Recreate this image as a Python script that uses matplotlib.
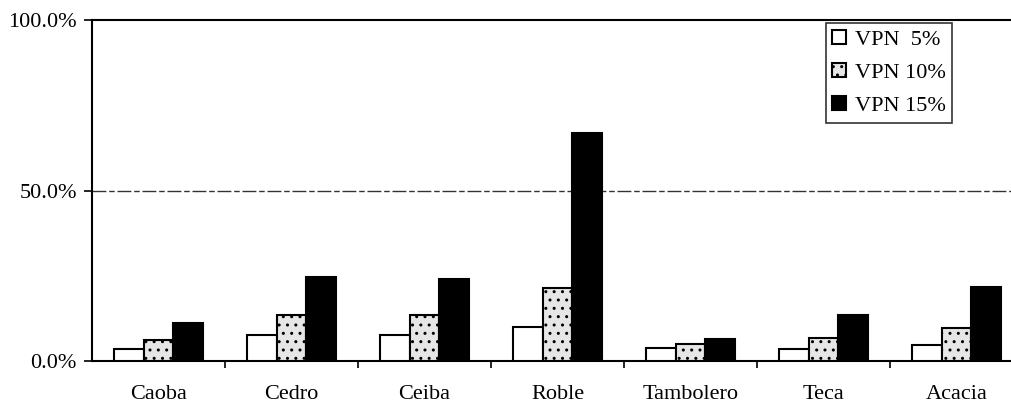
import matplotlib
matplotlib.use('Agg')
import matplotlib.pyplot as plt
import numpy as np
from matplotlib.ticker import FuncFormatter

categories = ['Caoba', 'Cedro', 'Ceiba', 'Roble', 'Tambolero', 'Teca', 'Acacia']
vpn5 = [3.5, 7.6, 7.6, 10.0, 3.8, 3.5, 4.7]
vpn10 = [6.2, 13.5, 13.5, 21.4, 5.0, 6.7, 9.7]
vpn15 = [11.1, 24.6, 24.0, 66.9, 6.4, 13.5, 21.7]
labels = ['VPN  5%', 'VPN 10%', 'VPN 15%']

plt.rcParams['font.family'] = ['Liberation Serif', 'DejaVu Serif']

fig = plt.figure(figsize=(10.11, 4.04), dpi=100)
ax = fig.add_axes([0.091, 0.1064, 0.909, 0.8441])

x = np.arange(len(categories))
w = 0.222
ax.bar(x - w, vpn5, w, color='white', edgecolor='black', linewidth=1.5, label=labels[0], zorder=3)
ax.bar(x, vpn10, w, color='#e6e6e6', edgecolor='black', linewidth=1.5, hatch='..', label=labels[1], zorder=3)
ax.bar(x + w, vpn15, w, color='black', edgecolor='black', linewidth=1.5, label=labels[2], zorder=3)

ax.set_ylim(0, 100)
ax.set_xlim(-0.5, 6.41)
ax.set_yticks([0, 50, 100])
ax.yaxis.set_major_formatter(FuncFormatter(lambda v, p: '%.1f%%' % v))
ax.axhline(50, color='#333333', linewidth=1, linestyle=(0, (10, 2, 4, 2)), zorder=1)

ax.set_xticks(x)
ax.set_xticklabels(categories)
ax.set_xticks(np.arange(0.5, 6, 1), minor=True)
ax.tick_params(axis='x', which='major', length=0, pad=17, labelsize=16)
ax.tick_params(axis='x', which='minor', length=5, width=1.2, direction='out')
ax.tick_params(axis='y', length=6, width=1.2, pad=5, labelsize=16)

ax.spines['right'].set_visible(False)
for s in ['left', 'top', 'bottom']:
    ax.spines[s].set_linewidth(1.5)

leg = ax.legend(loc='upper right', bbox_to_anchor=(0.936, 0.991), fontsize=16,
                frameon=True, fancybox=False, edgecolor='black',
                handlelength=0.6, handleheight=0.6, handletextpad=0.4,
                labelspacing=0.6, borderpad=0.3, borderaxespad=0)
leg.get_frame().set_linewidth(1.2)

fig.savefig('out.png', dpi=100)
